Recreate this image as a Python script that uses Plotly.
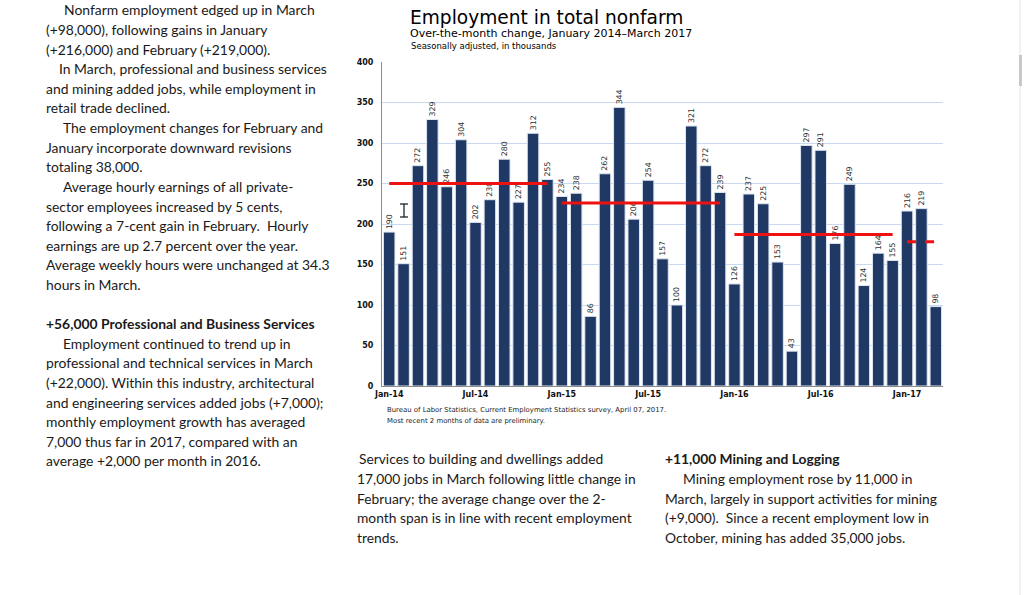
import plotly.graph_objects as go

# ---------------- data ----------------
months = ["Jan-14","Feb-14","Mar-14","Apr-14","May-14","Jun-14","Jul-14","Aug-14","Sep-14","Oct-14","Nov-14","Dec-14",
          "Jan-15","Feb-15","Mar-15","Apr-15","May-15","Jun-15","Jul-15","Aug-15","Sep-15","Oct-15","Nov-15","Dec-15",
          "Jan-16","Feb-16","Mar-16","Apr-16","May-16","Jun-16","Jul-16","Aug-16","Sep-16","Oct-16","Nov-16","Dec-16",
          "Jan-17","Feb-17","Mar-17"]
change = [190,151,272,329,246,304,202,230,280,227,312,255,
          234,238,86,262,344,206,254,157,100,321,272,239,
          126,237,225,153,43,297,291,176,249,124,164,155,
          216,219,98]
tick_labels = ["Jan-14","Jul-14","Jan-15","Jul-15","Jan-16","Jul-16","Jan-17"]
# yearly averages (red lines): start month, end month, value
avg_start = ["Jan-14","Jan-15","Jan-16","Jan-17"]
avg_end = ["Dec-14","Dec-15","Dec-16","Mar-17"]
avg_value = [250, 226, 187, 178]
avg_dash = ["solid","solid","solid","dash"]

left_text = [
    (62, "Nonfarm employment edged up in March"),
    (44, "(+98,000), following gains in January"),
    (44, "(+216,000) and February (+219,000)."),
    (57, "In March, professional and business services"),
    (44, "and mining added jobs, while employment in"),
    (44, "retail trade declined."),
    (61, "The employment changes for February and"),
    (44, "January incorporate downward revisions"),
    (44, "totaling 38,000."),
    (61, "Average hourly earnings of all private-"),
    (44, "sector employees increased by 5 cents,"),
    (44, "following a 7-cent gain in February.  Hourly"),
    (44, "earnings are up 2.7 percent over the year."),
    (44, "Average weekly hours were unchanged at 34.3"),
    (44, "hours in March."),
    (44, ""),
    (44, "<b>+56,000 Professional and Business Services</b>"),
    (61, "Employment continued to trend up in"),
    (44, "professional and technical services in March"),
    (44, "(+22,000). Within this industry, architectural"),
    (44, "and engineering services added jobs (+7,000);"),
    (44, "monthly employment growth has averaged"),
    (44, "7,000 thus far in 2017, compared with an"),
    (44, "average +2,000 per month in 2016."),
]
mid_text = [
    (357, "Services to building and dwellings added"),
    (355, "17,000 jobs in March following little change in"),
    (355, "February; the average change over the 2-"),
    (355, "month span is in line with recent employment"),
    (355, "trends."),
]
right_text = [
    (663, "<b>+11,000 Mining and Logging</b>"),
    (681, "Mining employment rose by 11,000 in"),
    (663, "March, largely in support activities for mining"),
    (663, "(+9,000).  Since a recent employment low in"),
    (663, "October, mining has added 35,000 jobs."),
]

# ---------------- geometry ----------------
W, H = 1024, 595
PL, PR, PT, PB = 382, 943, 62, 386   # plot area in window pixels

def fx(px):
    return (px - PL) / (PR - PL)

def fy(py):
    return (PB - py) / (PB - PT)

idx = list(range(len(months)))

fig = go.Figure()
fig.add_trace(go.Bar(
    x=idx, y=change, width=0.8,
    marker=dict(color="#1f3864", line=dict(color="#dde6f2", width=1)),
    text=[str(v) for v in change], textposition="outside", textangle=-90,
    textfont=dict(family="DejaVu Sans", size=7.8, color="#333333"),
    cliponaxis=False, constraintext="none", showlegend=False, hoverinfo="x+y",
))
for s, e, v, d in zip(avg_start, avg_end, avg_value, avg_dash):
    i0, i1 = months.index(s), months.index(e)
    fig.add_trace(go.Scatter(
        x=[i0, i1], y=[v, v], mode="lines",
        line=dict(color="#ee1111", width=3, dash=d),
        showlegend=False, hoverinfo="skip"))

annotations = []

def ann(text, px, py, size, family="Lato", color="#1a1a1a", xanchor="left", bold=False):
    annotations.append(dict(
        text=("<b>%s</b>" % text) if bold else text, x=fx(px), y=fy(py),
        xref="paper", yref="paper", xanchor=xanchor, yanchor="middle",
        showarrow=False, font=dict(family=family, size=size, color=color)))

for i, (x0, t) in enumerate(left_text):
    if t:
        ann(t, x0, 10 + i * 19.6, 13.9)
for i, (x0, t) in enumerate(mid_text):
    ann(t, x0, 459 + i * 19.6, 13.8)
for i, (x0, t) in enumerate(right_text):
    ann(t, x0, 459 + i * 19.6, 13.8)

# chart titles and source
ann("Employment in total nonfarm", 408, 17, 18.6, family="DejaVu Sans", color="#000000")
ann("Over-the-month change, January 2014\u2013March 2017", 408, 33, 11, family="DejaVu Sans", color="#000000")
ann("Seasonally adjusted, in thousands", 409, 46, 8.5, family="DejaVu Sans", color="#000000")
ann("Bureau of Labor Statistics, Current Employment Statistics survey, April 07, 2017.", 385, 410, 6.9,
    family="DejaVu Sans", color="#222222")
ann("Most recent 2 months of data are preliminary.", 385, 421, 6.9, family="DejaVu Sans", color="#222222")

shapes = []
# I-beam text cursor
for (x0, y0, x1, y1) in [(404, 204, 404, 217), (400, 204, 408, 204), (400, 217, 408, 217)]:
    shapes.append(dict(type="line", xref="paper", yref="paper", x0=fx(x0), y0=fy(y0), x1=fx(x1), y1=fy(y1),
                       line=dict(color="#111111", width=1.2)))
# scrollbar at right edge
shapes.append(dict(type="line", xref="paper", yref="paper", x0=fx(1020), x1=fx(1020), y0=fy(0), y1=fy(595),
                   line=dict(color="#e4e4e4", width=1)))
shapes.append(dict(type="rect", xref="paper", yref="paper", x0=fx(1019), x1=fx(1022), y0=fy(55), y1=fy(86),
                   line=dict(width=0), fillcolor="#c8c8c8"))

fig.update_layout(
    width=W, height=H,
    margin=dict(l=PL, r=W - PR, t=PT, b=H - PB, pad=0),
    paper_bgcolor="white", plot_bgcolor="white",
    bargap=0.2,
    xaxis=dict(range=[-0.5, len(months) - 0.5], tickmode="array",
               tickvals=[months.index(t) for t in tick_labels], ticktext=tick_labels,
               tickfont=dict(family="DejaVu Sans", size=8, color="#111111", weight="bold"),
               showgrid=False, zeroline=False, showline=True, linecolor="#8c8c8c", linewidth=1,
               ticks="", ticklen=0),
    yaxis=dict(range=[0, 400], dtick=50, tickfont=dict(family="DejaVu Sans", size=8, color="#111111", weight="bold"),
               showgrid=True, gridcolor="#c9d9ef", gridwidth=1, zeroline=False,
               showline=True, linecolor="#8c8c8c", linewidth=1, ticks="", ticklabelstandoff=6),
    annotations=annotations,
    shapes=shapes,
)

fig.write_html("out.html", config={"displayModeBar": False},
               post_script="document.body.style.margin='0px';document.body.style.overflow='hidden';")
